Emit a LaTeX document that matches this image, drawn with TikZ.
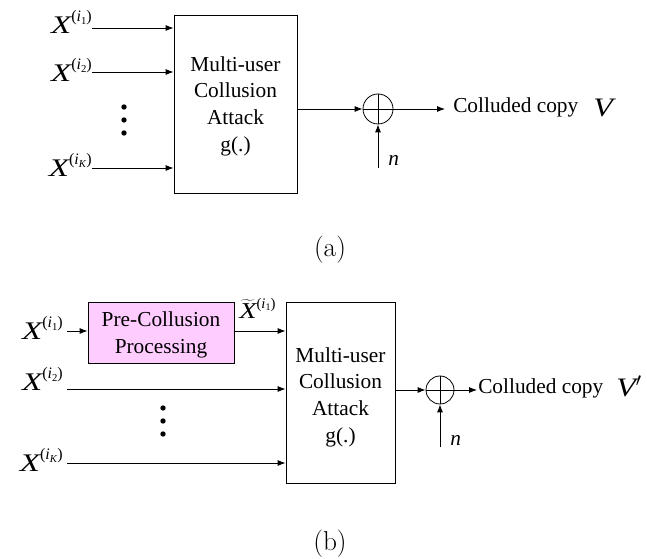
\documentclass[tikz,border=0pt]{standalone}
\usepackage{fontspec}
\newfontfamily\tnr{Liberation Serif}
\usetikzlibrary{arrows.meta}
\definecolor{pinkfill}{RGB}{255,204,255}
\newcommand\Xsup[1]{\raisebox{9.5pt}{\fontsize{12}{12}\selectfont\upshape(\textit{i}\raisebox{-2.2pt}{\fontsize{8}{8}\selectfont #1})}}
\newcommand\Xl[1]{{\tnr\fontsize{19}{19}\selectfont\itshape\scalebox{1.3}[1]{X}\Xsup{#1}}}
\begin{document}
\begin{tikzpicture}[x=0.75pt,y=-0.75pt,
  arr/.style={-{Latex[length=6pt,width=4.5pt]},line width=0.6pt},
  ln/.style={line width=0.6pt},
  blk/.style={draw,line width=0.6pt,inner sep=0pt,align=center,
     font=\tnr\fontsize{16}{20}\selectfont},
  sumc/.style={draw,circle,line width=0.6pt,inner sep=0pt},
  txt/.style={inner sep=0pt,font=\tnr\fontsize{16}{20}\selectfont},
  dotn/.style={circle,fill,inner sep=0pt,minimum size=4pt},
  capl/.style={inner sep=0pt,font=\fontsize{20.5}{24}\selectfont}]
\useasboundingbox (0,0) rectangle (647,559);

% ---------- (a) ----------
\node[blk,minimum width=92.25pt,minimum height=133.5pt] (ba) at (235.5,104) {};
\node[txt,align=center] (bat) at (235.5,106) {Multi-user\\Collusion\\Attack\\g(.)};
\coordinate (sa1) at (92,28);
\coordinate (sa2) at (92,72);
\coordinate (sa3) at (92,168);
\node[inner sep=0pt,anchor=base east] (xa1) at (92,34) {\Xl{1}};
\node[inner sep=0pt,anchor=base east] (xa2) at (92,82) {\Xl{2}};
\node[inner sep=0pt,anchor=base east] (xa3) at (92,177) {\Xl{\textit{K}}};
\draw[arr] (sa1) -- (sa1 -| ba.west);
\draw[arr] (sa2) -- (sa2 -| ba.west);
\draw[arr] (sa3) -- (sa3 -| ba.west);
\node[dotn] (da1) at (124,107) {};
\node[dotn] (da2) at (124,120) {};
\node[dotn] (da3) at (124,133) {};
\node[sumc,minimum size=22.5pt] (ca) at (378,109) {};
\draw[ln] (ca.north) -- (ca.south) (ca.west) -- (ca.east);
\draw[arr] (ca.west -| ba.east) -- (ca.west);
\coordinate (oa) at (445,109);
\draw[arr] (ca.east) -- (oa);
\node[txt,anchor=base west] (cca) at (453,113) {Colluded copy};
\node[inner sep=0pt,anchor=base west] (va) at (593,117) {\tnr\fontsize{20}{20}\selectfont\itshape\scalebox{1.2}[1]{V}};
\coordinate (na) at (378,168);
\draw[arr] (na) -- (ca.south);
\node[inner sep=0pt,anchor=base west] (nla) at (388,166) {\tnr\fontsize{16}{16}\selectfont\itshape n};
\node[capl] (capa) at (330,250) {(a)};

% ---------- (b) ----------
\node[blk,minimum width=81.75pt,minimum height=135.75pt] (bb) at (340.5,392.5) {};
\node[txt,align=center] (bbt) at (340.5,397) {Multi-user\\Collusion\\Attack\\g(.)};
\node[blk,fill=pinkfill,minimum width=109.5pt,minimum height=45.75pt] (pc) at (161,332.5) {};
\node[txt,align=center] (pct) at (161,335) {Pre-Collusion\\Processing};
\coordinate (sb1) at (67,331);
\coordinate (sb2) at (67,389);
\coordinate (sb3) at (67,463);
\node[inner sep=0pt,anchor=base east] (xb1) at (63,340) {\Xl{1}};
\node[inner sep=0pt,anchor=base east] (xb2) at (63,391) {\Xl{2}};
\node[inner sep=0pt,anchor=base east] (xb3) at (63,472) {\Xl{\textit{K}}};
\draw[arr] (sb1) -- (sb1 -| pc.west);
\draw[arr] (sb1 -| pc.east) -- (sb1 -| bb.west);
\draw[arr] (sb2) -- (sb2 -| bb.west);
\draw[arr] (sb3) -- (sb3 -| bb.west);
\node[inner sep=0pt,anchor=base west] (xt) at (239,319) {{\tnr\fontsize{17}{17}\selectfont\itshape $\widetilde{\mbox{\itshape\scalebox{1.25}[1]{X}}}$\raisebox{8pt}{\fontsize{11}{11}\selectfont\upshape(\textit{i}\raisebox{-2pt}{\fontsize{7.5}{7.5}\selectfont 1})}}};
\node[dotn] (db1) at (163,408) {};
\node[dotn] (db2) at (163,421) {};
\node[dotn] (db3) at (163,434) {};
\node[sumc,minimum size=21pt] (cb) at (440,390) {};
\draw[ln] (cb.north) -- (cb.south) (cb.west) -- (cb.east);
\draw[arr] (cb.west -| bb.east) -- (cb.west);
\coordinate (ob) at (477,390);
\draw[arr] (cb.east) -- (ob);
\node[txt,anchor=base west] (ccb) at (478,394) {Colluded copy};
\node[inner sep=0pt,anchor=base west] (vb) at (616,397) {\tnr\fontsize{20}{20}\selectfont\itshape\scalebox{1.2}[1]{V}$^{\prime}$};
\coordinate (nb) at (440,447);
\draw[arr] (nb) -- (cb.south);
\node[inner sep=0pt,anchor=base west] (nlb) at (450,446) {\tnr\fontsize{16}{16}\selectfont\itshape n};
\node[capl] (capb) at (330,544) {(b)};
\end{tikzpicture}
\end{document}
